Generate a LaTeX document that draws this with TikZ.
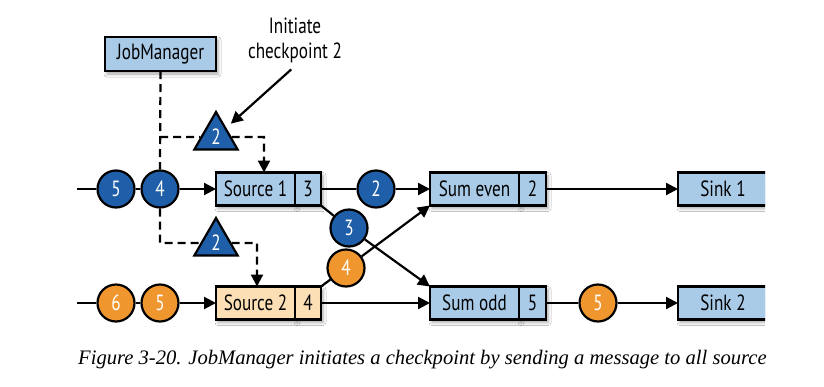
\documentclass[tikz,border=0pt]{standalone}
\usepackage{fontspec}
\setmainfont[FakeStretch=0.78]{PT Sans}
\newfontfamily\capfont{Liberation Serif}
\usetikzlibrary{arrows.meta,shapes.geometric,shadows.blur}
\definecolor{boxblue}{HTML}{A9CBE8}
\definecolor{tokblue}{HTML}{1F5EA8}
\definecolor{tokorange}{HTML}{F0962E}
\definecolor{srcorange}{HTML}{FCDFB5}
\tikzset{
  lbl/.style={font=\fontsize{22}{25}\selectfont},
  box/.style={draw, line width=2.8pt, fill=boxblue, minimum height=33pt, inner sep=0pt, outer sep=0pt,
    lbl, blur shadow={shadow xshift=2pt, shadow yshift=-3pt, shadow blur radius=3pt, shadow opacity=35}},
  srcbox/.style={box, fill=srcorange},
  tok/.style={circle, draw, line width=2.2pt, minimum size=37pt, inner sep=0pt, text=white, lbl},
  bluetok/.style={tok, fill=tokblue},
  orangetok/.style={tok, fill=tokorange},
  barrier/.style={regular polygon, regular polygon sides=3, minimum size=50pt, draw, line width=2.2pt,
    fill=tokblue, inner sep=0pt, text=white, lbl},
  tip/.style={-{Triangle[length=12pt,width=12pt]}},
  link/.style={line width=2.2pt},
  flow/.style={link, tip},
  signal/.style={line width=2.2pt, dash pattern=on 8pt off 5pt},
}
\begin{document}
\begin{tikzpicture}[x=1pt,y=-1pt]
\useasboundingbox[fill=white] (0,0) rectangle (824,386);

% job manager and the annotation
\node[box, minimum width=111pt, minimum height=34pt] (jm) at (160.5,54) {JobManager};
\node[lbl, align=center] (note) at (295,40) {Initiate\\checkpoint 2};

% operators
\node[box, minimum width=79pt, anchor=west] (s1) at (216,189) {Source 1};
\node[box, minimum width=26pt, anchor=west] (s1n) at (s1.east) {3};
\node[srcbox, minimum width=79pt, anchor=west] (s2) at (216,303) {Source 2};
\node[srcbox, minimum width=26pt, anchor=west] (s2n) at (s2.east) {4};
\node[box, minimum width=89pt, anchor=west] (se) at (430,189) {Sum even};
\node[box, minimum width=27pt, anchor=west] (sen) at (se.east) {2};
\node[box, minimum width=89pt, anchor=west] (so) at (430,303) {Sum odd};
\node[box, minimum width=27pt, anchor=west] (son) at (so.east) {5};
\begin{scope}
  \clip (0,0) rectangle (765,386);
  \node[box, minimum width=90pt, anchor=west] (k1) at (678,189) {Sink 1};
  \node[box, minimum width=90pt, anchor=west] (k2) at (678,303) {Sink 2};
\end{scope}

% records in flight
\node[bluetok] (c5a) at (116,189) {5};
\node[bluetok] (c4a) at (160,189) {4};
\node[bluetok] (c2) at (376,189) {2};
\node[bluetok] (c3) at (349,228) {3};
\node[orangetok] (c6b) at (116,303) {6};
\node[orangetok] (c5b) at (160,303) {5};
\node[orangetok] (c4b) at (346,268) {4};
\node[orangetok] (c5c) at (598,303) {5};

% checkpoint barriers
\node[barrier] (m1) at (216,137) {2};
\node[barrier] (m2) at (216,243) {2};

% data streams
\coordinate (in1) at (77,189);
\coordinate (in2) at (77,303);
\draw[link] (in1) -- (c5a) -- (c4a);
\draw[flow] (c4a) -- (s1);
\draw[link] (in2) -- (c6b) -- (c5b);
\draw[flow] (c5b) -- (s2);
\draw[link] (s1n) -- (c2);
\draw[flow] (c2) -- (se);
\draw[link] (s1n.south east) -- (c3);
\draw[flow] (c3) -- (so.north west);
\draw[link] (s2n.north east) -- (c4b);
\draw[flow] (c4b) -- (se.south west);
\draw[flow] (s2n) -- (so);
\draw[flow] (sen) -- (k1);
\draw[link] (son) -- (c5c);
\draw[flow] (c5c) -- (k2);

% barrier injection
\coordinate (t1) at (264,137);
\coordinate (t2) at (257,243);
\draw[signal] (jm.south) -- (c4a.north);
\draw[signal] (c4a.north |- m1.center) -- (m1);
\draw[signal, tip] (m1) -- (t1) -- (t1 |- s1.north);
\draw[signal] (c4a.south) -- (c4a.south |- m2.center) -- (m2);
\draw[signal, tip] (m2) -- (t2) -- (t2 |- s2.north);
\draw[flow, shorten <=5pt, shorten >=6pt] (note.south) -- (m1);

% caption
\node[anchor=west, inner sep=0pt, font=\capfont\itshape\fontsize{20.6}{22}\selectfont] (cap) at (78,360)
  {Figure 3-20. JobManager initiates a checkpoint by sending a message to all source};
\end{tikzpicture}
\end{document}
